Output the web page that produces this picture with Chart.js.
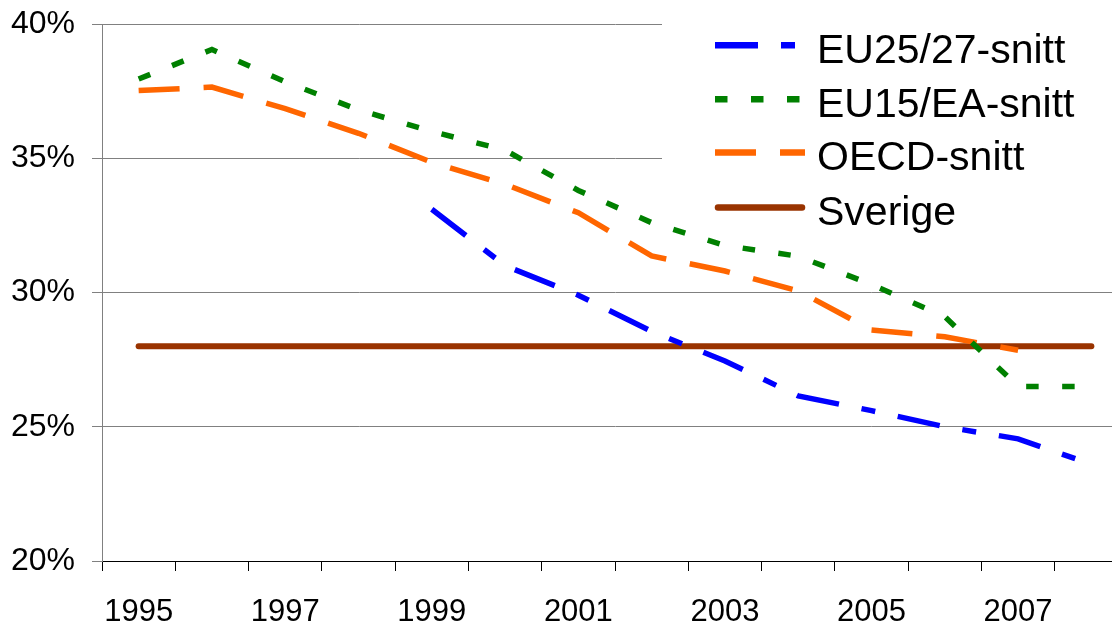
<!DOCTYPE html>
<html>
<head>
<meta charset="utf-8">
<script src="https://cdn.jsdelivr.net/npm/chart.js@4.4.1/dist/chart.umd.min.js"></script>
<style>
  html, body { margin: 0; padding: 0; background: #fff; overflow: hidden; }
  #wrap { width: 1128px; height: 627px; position: relative; }
</style>
</head>
<body>
<div id="wrap"><canvas id="chart"></canvas></div>
<script>
// ── Data ──────────────────────────────────────────────────
const years   = ['1995', '1996', '1997', '1998', '1999', '2000', '2001',
                 '2002', '2003', '2004', '2005', '2006', '2007', '2008'];
const eu25    = [null, null, null, null, 33.1, 31.0, 29.9, 28.55, 27.45, 26.15, 25.6, 25.0, 24.55, 23.6];
const eu15    = [37.95, 39.05, 37.85, 36.8, 36.0, 35.3, 33.8, 32.6, 31.75, 31.35, 30.3, 29.1, 26.5, 26.5];
const oecd    = [37.52, 37.65, 36.85, 35.93, 34.85, 34.03, 32.97, 31.36, 30.8, 30.06, 28.6, 28.35, 27.85, null];
const sverige = [28, 28, 28, 28, 28, 28, 28, 28, 28, 28, 28, 28, 28, 28];
const yTicks  = [20, 25, 30, 35, 40];

const FONT = "'Liberation Sans', Arial, sans-serif";

// Legend drawn inside the plot, top right, on a white box
const insideLegend = {
  id: 'insideLegend',
  beforeDatasetsDraw(chart) {
    const ctx = chart.ctx;
    ctx.save();
    ctx.fillStyle = '#fff';
    ctx.fillRect(662, 6, 470, 226);
    const rows = [45.3, 99.3, 152.5, 207.5];
    chart.data.datasets.forEach((ds, i) => {
      const y = rows[i];
      ctx.strokeStyle = ds.borderColor;
      ctx.lineWidth = 6.5;
      ctx.lineCap = ds.borderCapStyle || 'butt';
      ctx.setLineDash(ds.borderDash || []);
      ctx.beginPath();
      if (ctx.lineCap === 'round') { ctx.moveTo(718, y); ctx.lineTo(802, y); }
      else { ctx.moveTo(715, y); ctx.lineTo(805, y); }
      ctx.stroke();
      ctx.setLineDash([]);
      ctx.fillStyle = '#000';
      ctx.font = '41px ' + FONT;
      ctx.textBaseline = 'alphabetic';
      ctx.textAlign = 'left';
      ctx.fillText(ds.label, 817, y + 17.5);
    });
    ctx.restore();
  }
};

new Chart(document.getElementById('chart'), {
  type: 'line',
  data: {
    labels: years,
    datasets: [
      { label: 'EU25/27-snitt', data: eu25, borderColor: '#0000ff', borderWidth: 5.5,
        borderDash: [43, 23, 14, 23], borderCapStyle: 'butt' },
      { label: 'EU15/EA-snitt', data: eu15, borderColor: '#008000', borderWidth: 5.5,
        borderDash: [12.5, 23.5], borderCapStyle: 'butt' },
      { label: 'OECD-snitt', data: oecd, borderColor: '#ff6600', borderWidth: 5.5,
        borderDash: [41, 24], borderCapStyle: 'butt' },
      { label: 'Sverige', data: sverige, borderColor: '#993300', borderWidth: 6,
        borderCapStyle: 'round' },
    ],
  },
  options: {
    responsive: true,
    maintainAspectRatio: false,
    devicePixelRatio: 1,
    animation: false,
    layout: { padding: { top: 24, right: 0, left: 0, bottom: 0 } },
    elements: { point: { radius: 0, hoverRadius: 0 }, line: { tension: 0, fill: false } },
    plugins: { legend: { display: false }, tooltip: { enabled: false } },
    scales: {
      x: {
        type: 'category',
        offset: true,
        grid: { display: true, drawOnChartArea: false, drawTicks: true, tickLength: 10,
                offset: true, color: '#000', lineWidth: 1 },
        border: { display: true, color: '#000', width: 1 },
        ticks: {
          autoSkip: false, maxRotation: 0, color: '#000', padding: 23,
          font: { family: FONT, size: 31 },
          callback(v, i) { return i % 2 === 0 ? this.getLabelForValue(v) : ''; },
        },
        afterFit(s) { s.height = 66; s.paddingLeft = 0; s.paddingRight = 0; },
      },
      y: {
        min: yTicks[0],
        max: yTicks[yTicks.length - 1],
        afterBuildTicks(s) { s.ticks = yTicks.map(v => ({ value: v })); },
        grid: {
          color: c => (c.tick && c.tick.value === yTicks[0] ? '#000' : '#808080'),
          lineWidth: 1, tickLength: 10, drawTicks: true,
          tickColor: '#808080',
        },
        border: { display: true, color: '#808080', width: 1 },
        ticks: {
          color: '#000', padding: 17,
          font: { family: FONT, size: 32 },
          callback: v => v + '%',
        },
        afterFit(s) { s.width = 102; s.paddingTop = 0; s.paddingBottom = 0; },
      },
    },
  },
  plugins: [insideLegend],
});
</script>
</body>
</html>
